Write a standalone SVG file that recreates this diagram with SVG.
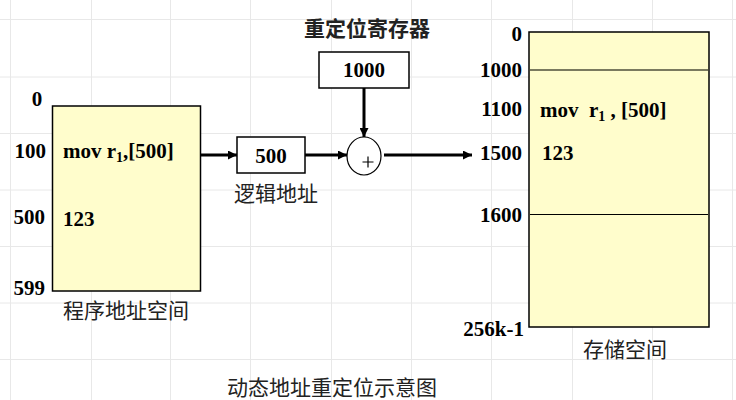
<svg xmlns="http://www.w3.org/2000/svg" width="736" height="400" viewBox="0 0 736 400">
<defs>
<style>
.grid{stroke:#e8e8e8;stroke-width:1;fill:none}
.b{font-family:"Liberation Serif","Times New Roman",serif;font-weight:bold;font-size:21px;fill:#000}
.cn{font-family:"Noto Sans CJK SC",sans-serif;font-size:21px;fill:#222}
.box{fill:#fffdcc;stroke:#000;stroke-width:1.5}
.wbox{fill:#fff;stroke:#000;stroke-width:1.5}
.conn{stroke:#000;stroke-width:3;fill:none}
</style>
<marker id="ah" viewBox="0 0 10 10" refX="10" refY="5" markerWidth="3" markerHeight="3" orient="auto" markerUnits="strokeWidth">
<path d="M0,0 L10,5 L0,10 z" fill="#000"/>
</marker>
</defs>
<rect width="736" height="400" fill="#fff"/>
<g id="grid" class="grid">
<path d="M10.5,0V400M91.5,0V400M170.5,0V400M250.5,0V400M331.5,0V400M411.5,0V400M491.5,0V400M572.5,0V400M652.5,0V400M732.5,0V400"/>
<path d="M0,19.5H736M0,77H736M0,133.5H736M0,190H736M0,246.5H736M0,303H736M0,359.5H736"/>
</g>
<g id="program-space">
<rect class="box" x="52.5" y="106" width="148" height="185"/>
<text class="b" x="63" y="158">mov r<tspan font-size="14" dy="4">1</tspan><tspan dy="-4">,[500]</tspan></text>
<text class="b" x="63" y="226">123</text>
<text class="b" x="37" y="106" text-anchor="middle">0</text>
<text class="b" x="46" y="158" text-anchor="end">100</text>
<text class="b" x="45" y="224" text-anchor="end">500</text>
<text class="b" x="45" y="295" text-anchor="end">599</text>
<text class="cn" x="126" y="318" text-anchor="middle">程序地址空间</text>
</g>
<g id="logical-address">
<rect class="wbox" x="237" y="137" width="68" height="36"/>
<text class="b" x="271" y="163" text-anchor="middle">500</text>
<text class="cn" x="276" y="201" text-anchor="middle">逻辑地址</text>
</g>
<g id="relocation-register">
<rect class="wbox" x="319" y="52" width="90" height="36"/>
<text class="b" x="364" y="77" text-anchor="middle">1000</text>
<text class="cn" x="367" y="36" text-anchor="middle" font-weight="bold">重定位寄存器</text>
</g>
<g id="adder">
<ellipse cx="364" cy="156" rx="17" ry="19" fill="#fff" stroke="#000" stroke-width="1.2"/>
<path d="M362.5,162H373.5M368,156.5V167.5" stroke="#000" stroke-width="1.2"/>
</g>
<g id="memory-space">
<rect class="box" x="529" y="32" width="180" height="295"/>
<line x1="530" y1="70" x2="708" y2="70" stroke="#7a7a5e" stroke-width="2"/>
<line x1="530" y1="214.5" x2="708" y2="214.5" stroke="#000" stroke-width="1"/>
<text class="b" x="540" y="117" xml:space="preserve">mov  r<tspan font-size="14" dy="4">1</tspan><tspan dy="-4"> , [500]</tspan></text>
<text class="b" x="542" y="160">123</text>
<text class="b" x="522" y="41" text-anchor="end">0</text>
<text class="b" x="522" y="77" text-anchor="end">1000</text>
<text class="b" x="522" y="116" text-anchor="end">1100</text>
<text class="b" x="522" y="160" text-anchor="end">1500</text>
<text class="b" x="522" y="222" text-anchor="end">1600</text>
<text class="b" x="524" y="336" text-anchor="end">256k-1</text>
<text class="cn" x="625" y="357" text-anchor="middle">存储空间</text>
</g>
<g id="connectors">
<line class="conn" x1="201" y1="155" x2="237" y2="155" marker-end="url(#ah)"/>
<line class="conn" x1="305" y1="155" x2="347" y2="155" marker-end="url(#ah)"/>
<line class="conn" x1="364" y1="88" x2="364" y2="137" marker-end="url(#ah)"/>
<line class="conn" x1="384" y1="155" x2="472" y2="155" marker-end="url(#ah)"/>
</g>
<text class="cn" x="332" y="395" text-anchor="middle">动态地址重定位示意图</text>
</svg>
